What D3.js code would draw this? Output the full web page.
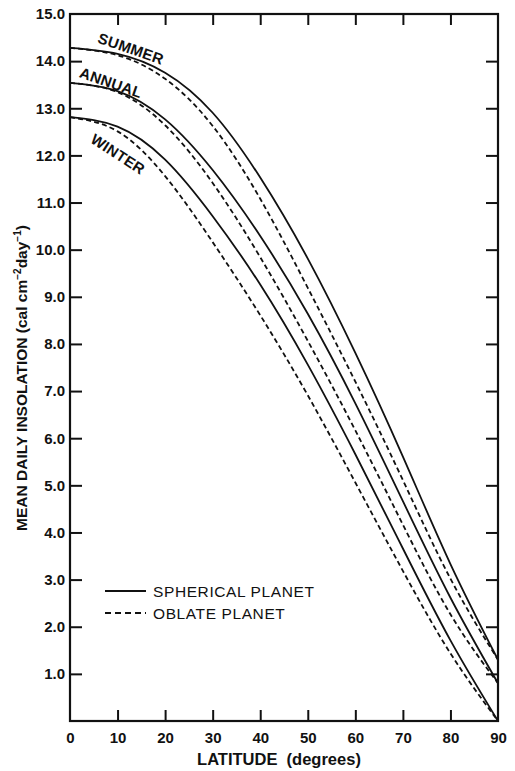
<!DOCTYPE html>
<html>
<head>
<meta charset="utf-8">
<script src="https://cdn.jsdelivr.net/npm/d3@7/dist/d3.min.js"></script>
<style>
  html, body { margin: 0; padding: 0; background: #fff; }
  svg { display: block; }
  text { font-family: "Liberation Sans", Arial, sans-serif; fill: #111; }
</style>
</head>
<body>
<svg id="chart" width="515" height="771"></svg>
<script>
// ---- data ----
const latitudes = [0, 10, 20, 30, 40, 50, 60, 70, 80, 90];
const summerSpherical = [14.28, 14.155, 13.755, 12.905, 11.53, 9.81, 7.81, 5.61, 3.33, 1.3];
const summerOblate    = [14.28, 14.125, 13.625, 12.625, 11.08, 9.19, 7.2, 5.11, 3.02, 1.3];
const annualSpherical = [13.54, 13.365, 12.765, 11.69, 10.29, 8.64, 6.74, 4.665, 2.615, 0.8];
const annualOblate    = [13.54, 13.34, 12.64, 11.415, 9.84, 8.065, 6.165, 4.165, 2.265, 0.8];
const winterSpherical = [12.81, 12.61, 11.91, 10.71, 9.26, 7.56, 5.66, 3.66, 1.71, 0];
const winterOblate    = [12.81, 12.51, 11.56, 10.16, 8.61, 6.91, 5.06, 3.185, 1.435, 0];
const xTicks = [0, 10, 20, 30, 40, 50, 60, 70, 80, 90];
const yTicks = [1, 2, 3, 4, 5, 6, 7, 8, 9, 10, 11, 12, 13, 14, 15];
const seasonLabels = ["SUMMER", "ANNUAL", "WINTER"];
const legendLabels = ["SPHERICAL PLANET", "OBLATE PLANET"];

const svg = d3.select("#chart");
const L = 70, R = 498, T = 14, B = 721;
const x = d3.scaleLinear().domain([0, 90]).range([L, R]);
const y = d3.scaleLinear().domain([0, 15]).range([B, T]);

const series = [
  { v: summerSpherical, dash: null },
  { v: summerOblate, dash: "5,3.2" },
  { v: annualSpherical, dash: null },
  { v: annualOblate, dash: "5,3.2" },
  { v: winterSpherical, dash: null },
  { v: winterOblate, dash: "5,3.2" }
];

const line = d3.line()
  .x(d => x(d[0])).y(d => y(d[1]))
  .curve(d3.curveNatural);

const g = svg.append("g");
series.forEach(s => {
  g.append("path")
    .attr("d", line(latitudes.map((l, i) => [l, s.v[i]])))
    .attr("fill", "none")
    .attr("stroke", "#111")
    .attr("stroke-width", 1.8)
    .attr("stroke-dasharray", s.dash);
});

// axes
function styleAxis(sel) {
  sel.select(".domain").remove();
  sel.selectAll(".tick line").attr("stroke", "#111").attr("stroke-width", 2);
  sel.selectAll("text").attr("fill", "#111");
}
const axL = svg.append("g").attr("transform", `translate(${L},0)`)
  .call(d3.axisLeft(y).tickValues(yTicks).tickSize(-12).tickPadding(5)
    .tickFormat(d3.format(".1f")));
styleAxis(axL);
axL.selectAll("text").attr("font-size", 15).attr("font-weight", "bold")
  .attr("font-family", "'Liberation Sans', Arial, sans-serif");
axL.selectAll(".tick").filter(d => d === 15).select("line").remove();

const axR = svg.append("g").attr("transform", `translate(${R},0)`)
  .call(d3.axisRight(y).tickValues(yTicks.filter(d => d < 15)).tickSize(-12).tickFormat(""));
styleAxis(axR);

const axB = svg.append("g").attr("transform", `translate(0,${B})`)
  .call(d3.axisBottom(x).tickValues(xTicks).tickSize(-11).tickPadding(11));
styleAxis(axB);
axB.selectAll("text").attr("font-size", 15).attr("font-weight", "bold")
  .attr("font-family", "'Liberation Sans', Arial, sans-serif");
axB.selectAll(".tick").filter(d => d === 0 || d === 90).select("line").remove();

const axT = svg.append("g").attr("transform", `translate(0,${T})`)
  .call(d3.axisTop(x).tickValues(xTicks.filter(d => d > 0 && d < 90)).tickSize(-11).tickFormat(""));
styleAxis(axT);

// frame
svg.append("rect").attr("x", L).attr("y", T).attr("width", R - L).attr("height", B - T)
  .attr("fill", "none").attr("stroke", "#111").attr("stroke-width", 2.2);

// curve labels
const labelPos = [
  { cx: 131, cy: 48.5, rot: 19 },
  { cx: 111, cy: 82.5, rot: 19 },
  { cx: 118, cy: 154, rot: 33 }
];
seasonLabels.forEach((t, i) => {
  const p = labelPos[i];
  svg.append("text")
    .attr("transform", `translate(${p.cx},${p.cy}) rotate(${p.rot})`)
    .attr("text-anchor", "middle").attr("dy", "0.36em")
    .attr("font-size", 15).attr("font-weight", "bold")
    .attr("letter-spacing", 0.3)
    .text(t);
});

// legend
const legY = [591, 613];
const legDash = [null, "6,4"];
legendLabels.forEach((t, i) => {
  svg.append("line").attr("x1", 105).attr("x2", 146).attr("y1", legY[i]).attr("y2", legY[i])
    .attr("stroke", "#111").attr("stroke-width", 1.8).attr("stroke-dasharray", legDash[i]);
  svg.append("text").attr("x", 153).attr("y", legY[i]).attr("dy", "0.36em")
    .attr("font-size", 15.5).attr("letter-spacing", 0.6)
    .text(t);
});

// axis titles
svg.append("text").attr("x", 279).attr("y", 765).attr("text-anchor", "middle")
  .attr("font-size", 16.5).attr("font-weight", "bold")
  .attr("xml:space", "preserve")
  .text("LATITUDE  (degrees)");

const yt = svg.append("text")
  .attr("transform", "translate(27,378) rotate(-90)")
  .attr("text-anchor", "middle")
  .attr("font-size", 15.5).attr("font-weight", "bold");
yt.append("tspan").text("MEAN DAILY INSOLATION (cal cm");
yt.append("tspan").attr("font-size", 10).attr("dy", -6).text("−2");
yt.append("tspan").attr("dy", 6).text("day");
yt.append("tspan").attr("font-size", 10).attr("dy", -6).text("−1");
yt.append("tspan").attr("dy", 6).text(")");
</script>
</body>
</html>
